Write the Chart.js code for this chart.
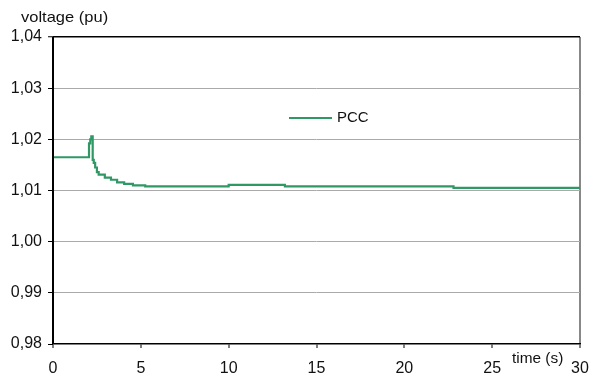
<!DOCTYPE html>
<html>
<head>
<meta charset="utf-8">
<script src="https://cdn.jsdelivr.net/npm/chart.js@4.4.1/dist/chart.umd.min.js"></script>
<style>
    html, body { margin: 0; padding: 0; background: #fff; }
    #wrap { width: 592px; height: 380px; }
</style>
</head>
<body>
<div id="wrap"><canvas id="Chart1" width="592" height="380"></canvas></div>
<script>
// step times (s) and the voltage (pu) that starts at each time
var times = [0, 2.05, 2.12, 2.18, 2.26, 2.32, 2.4, 2.5, 2.6, 2.95, 3.3, 3.65, 4.05, 4.55, 5.25, 10.0, 13.2, 22.8, 30];
var pccVolt = [1.0165, 1.0192, 1.0200, 1.0206, 1.0160, 1.0154, 1.0145, 1.0136, 1.0131, 1.0125, 1.0121, 1.0116, 1.0113, 1.0110, 1.0108, 1.0111, 1.0108, 1.0105, 1.0105];
var xTicks = [0, 5, 10, 15, 20, 25, 30];
var yTicks = [0.98, 0.99, 1.00, 1.01, 1.02, 1.03, 1.04];

var FONT = "'Liberation Sans', Arial, sans-serif";
var LINE_COLOR = "rgb(48, 152, 100)";

var points = [];
for (var i = 0; i < times.length; i++) {
    points.push({ x: times[i], y: pccVolt[i] });
}

// draw stretched text (the original font is a bit wider than Liberation Sans)
function wideText(ctx, txt, x, y, sx) {
    ctx.save();
    ctx.translate(x, y);
    ctx.scale(sx, 1);
    ctx.fillText(txt, 0, 0);
    ctx.restore();
}

var textPlugin = {
    id: 'textPlugin',
    afterDraw: function (chart) {
        var ctx = chart.ctx;
        var area = chart.chartArea;
        ctx.save();
        ctx.fillStyle = '#111';
        ctx.textBaseline = 'middle';
        ctx.textAlign = 'left';
        ctx.font = "15px " + FONT;
        wideText(ctx, 'voltage (pu)', 21, 18, 1.1);
        ctx.font = "14px " + FONT;
        wideText(ctx, 'time (s)', 512, 359, 1.1);
        // legend
        ctx.strokeStyle = LINE_COLOR;
        ctx.lineWidth = 2;
        ctx.beginPath();
        ctx.moveTo(289, 118);
        ctx.lineTo(332, 118);
        ctx.stroke();
        ctx.font = "15px " + FONT;
        ctx.fillText('PCC', 337, 118);
        // left axis line
        ctx.strokeStyle = '#000';
        ctx.lineWidth = 2;
        ctx.beginPath();
        ctx.moveTo(area.left, area.top);
        ctx.lineTo(area.left, area.bottom);
        ctx.stroke();
        ctx.restore();
    }
};

var ctx1 = document.getElementById("Chart1");
var Chart1 = new Chart(ctx1, {
    type: 'line',
    data: {
        datasets: [{
            label: 'PCC',
            data: points,
            borderColor: LINE_COLOR,
            backgroundColor: LINE_COLOR,
            borderWidth: 2.2,
            stepped: true,
            pointRadius: 0,
            fill: false
        }]
    },
    options: {
        responsive: false,
        animation: false,
        layout: {
            padding: { left: 0, right: 12, top: 37, bottom: 0 }
        },
        plugins: {
            legend: { display: false },
            tooltip: { enabled: false }
        },
        scales: {
            x: {
                type: 'linear',
                min: 0,
                max: 30,
                afterBuildTicks: function (scale) {
                    scale.ticks = xTicks.map(function (v) { return { value: v }; });
                },
                afterFit: function (scale) {
                    scale.height = 36;
                    scale.paddingLeft = 0;
                    scale.paddingRight = 0;
                },
                border: { display: true, color: '#000', width: 1.5 },
                grid: {
                    drawOnChartArea: true,
                    color: function (c) {
                        return (c.tick && c.tick.value === 30) ? '#888' : 'rgba(0,0,0,0)';
                    },
                    lineWidth: 2,
                    tickColor: '#000',
                    tickLength: 4,
                    tickWidth: 1
                },
                ticks: {
                    color: '#111',
                    font: { family: FONT, size: 16 },
                    padding: 11,
                    maxRotation: 0,
                    autoSkip: false
                }
            },
            y: {
                min: 0.98,
                max: 1.04,
                afterBuildTicks: function (scale) {
                    scale.ticks = yTicks.map(function (v) { return { value: v }; });
                },
                afterFit: function (scale) {
                    scale.width = 53;
                    scale.paddingTop = 0;
                    scale.paddingBottom = 0;
                },
                border: { display: false },
                grid: {
                    color: function (c) {
                        if (c.tick && Math.abs(c.tick.value - 1.04) < 1e-6) return '#000';
                        if (c.tick && Math.abs(c.tick.value - 0.98) < 1e-6) return 'rgba(0,0,0,0)';
                        return '#aaa';
                    },
                    lineWidth: function (c) {
                        return (c.tick && Math.abs(c.tick.value - 1.04) < 1e-6) ? 1.5 : 1;
                    },
                    tickColor: '#000',
                    tickLength: 5,
                    tickWidth: 1
                },
                ticks: {
                    color: '#111',
                    font: { family: FONT, size: 16 },
                    padding: 6,
                    callback: function (value) {
                        return value.toFixed(2).replace('.', ',');
                    }
                }
            }
        }
    },
    plugins: [textPlugin]
});
</script>
</body>
</html>
